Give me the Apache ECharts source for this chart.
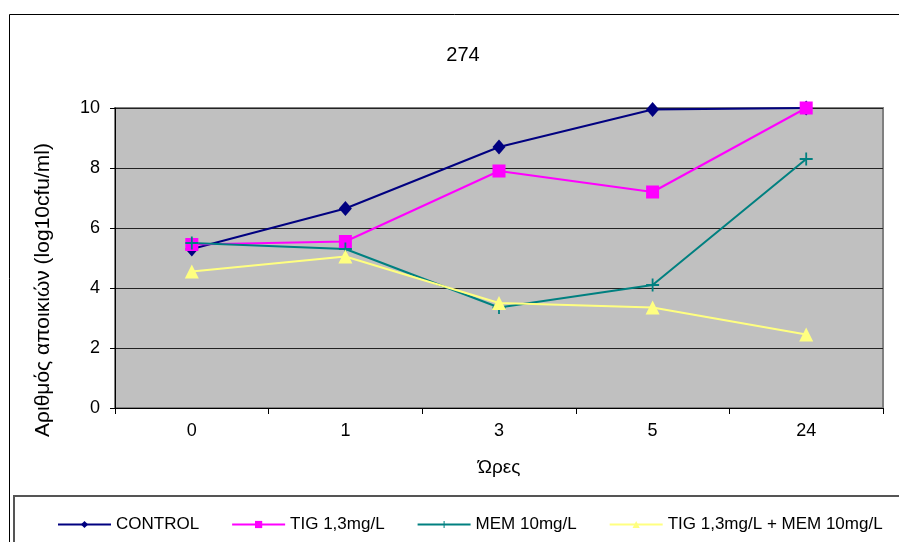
<!DOCTYPE html>
<html>
<head>
<meta charset="utf-8">
<script src="https://cdn.jsdelivr.net/npm/echarts@6/dist/echarts.min.js"></script>
<style>
  html, body { margin: 0; padding: 0; background: #ffffff; }
  #chart { width: 899px; height: 542px; }
</style>
</head>
<body>
<div id="chart"></div>
<script>
// Time points (hours)
const hours = ['0', '1', '3', '5', '24'];

// Colony counts, log10 cfu/ml
const control = [5.3, 6.65, 8.7, 9.95, 10];
const tig = [5.45, 5.55, 7.9, 7.2, 10];
const mem = [5.5, 5.3, 3.35, 4.1, 8.3];
const tigMem = [4.55, 5.05, 3.5, 3.35, 2.45];

const seriesNames = ['CONTROL', 'TIG 1,3mg/L', 'MEM 10mg/L', 'TIG 1,3mg/L + MEM 10mg/L'];
const yTicks = [0, 2, 4, 6, 8, 10];

const FONT = '"Liberation Sans", Arial, sans-serif';
const plusPath = 'path://M4.3,0H5.7V4.3H10V5.7H5.7V10H4.3V5.7H0V4.3H4.3Z';

const chart = echarts.init(document.getElementById('chart'));

function lineSeries(name, data, color, symbol, size) {
  return {
    name: name,
    type: 'line',
    data: data,
    symbol: symbol,
    symbolSize: size,
    showSymbol: true,
    animation: false,
    lineStyle: { color: color, width: 2 },
    itemStyle: { color: color, borderWidth: 0 },
    emphasis: { disabled: true }
  };
}

chart.setOption({
  backgroundColor: '#ffffff',
  animation: false,
  textStyle: { fontFamily: FONT },
  title: {
    text: '274',
    left: 458,
    top: 40,
    textAlign: 'center',
    textStyle: { fontFamily: FONT, fontSize: 20, fontWeight: 'normal', color: '#000' }
  },
  grid: {
    left: 115, right: 16, top: 108, bottom: 134,
    show: true,
    backgroundColor: '#C0C0C0',
    borderColor: '#808080',
    borderWidth: 2
  },
  legend: {
    left: 52,
    top: 511,
    itemWidth: 53,
    itemHeight: 9,
    itemGap: 32,
    data: seriesNames,
    textStyle: { fontFamily: FONT, fontSize: 17, color: '#000' },
    selectedMode: false
  },
  xAxis: {
    type: 'category',
    data: hours,
    boundaryGap: true,
    name: 'Ώρες',
    nameLocation: 'middle',
    nameGap: 50,
    nameTextStyle: { fontFamily: FONT, fontSize: 19, color: '#000' },
    axisLine: { show: true, lineStyle: { color: '#000', width: 1 } },
    axisTick: { show: true, inside: false, length: 6, lineStyle: { color: '#000' } },
    axisLabel: { margin: 14, fontFamily: FONT, fontSize: 18, color: '#000' },
    splitLine: { show: false }
  },
  yAxis: {
    type: 'value',
    min: yTicks[0],
    max: yTicks[yTicks.length - 1],
    interval: 2,
    axisLine: { show: true, lineStyle: { color: '#000', width: 1 } },
    axisTick: { show: true, inside: false, length: 5, lineStyle: { color: '#000' } },
    axisLabel: { margin: 15, fontFamily: FONT, fontSize: 18, color: '#000' },
    splitLine: { show: true, lineStyle: { color: '#222', width: 1 } }
  },
  graphic: [
    {
      type: 'rect',
      shape: { x: 9.5, y: 14.5, width: 2000, height: 2000 },
      style: { fill: null, stroke: '#000', lineWidth: 1 },
      silent: true, z: -10
    },
    {
      type: 'rect',
      shape: { x: 14, y: 496, width: 2000, height: 200 },
      style: { fill: null, stroke: '#555', lineWidth: 2 },
      silent: true, z: -10
    },
    {
      type: 'text',
      x: 43,
      y: 290,
      rotation: Math.PI / 2,
      style: {
        text: 'Αριθμός αποικιών (log10cfu/ml)',
        font: '21px ' + FONT,
        fill: '#000',
        align: 'center',
        verticalAlign: 'middle'
      },
      silent: true
    }
  ],
  series: [
    lineSeries(seriesNames[0], control, '#000080', 'diamond', [13, 15]),
    lineSeries(seriesNames[1], tig, '#FF00FF', 'rect', 13),
    lineSeries(seriesNames[2], mem, '#008080', plusPath, 13),
    lineSeries(seriesNames[3], tigMem, '#FFFF80', 'triangle', 14)
  ]
});
</script>
</body>
</html>
